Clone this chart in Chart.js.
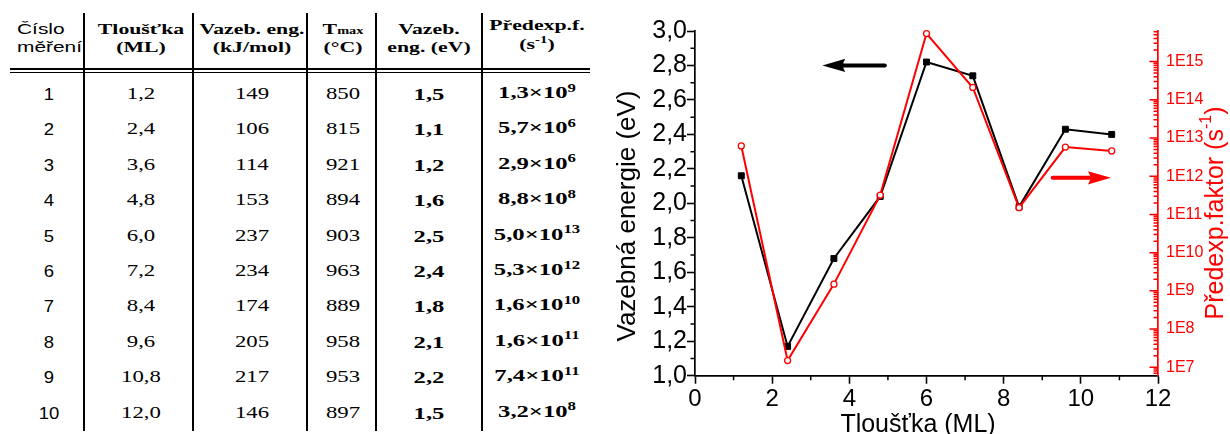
<!DOCTYPE html>
<html>
<head>
<meta charset="utf-8">
<script src="https://cdn.jsdelivr.net/npm/chart.js@4/dist/chart.umd.min.js"></script>
<style>
  html, body { margin: 0; padding: 0; background: #fff; }
  #page { position: relative; width: 1230px; height: 434px; overflow: hidden; background: #fff; }
  #table { position: absolute; left: 0; top: 0; width: 600px; height: 434px; }
  #chartBox { position: absolute; left: 600px; top: 0; width: 630px; height: 434px; }
  .t { position: absolute; white-space: nowrap; line-height: 1; color: #000; }
  .sans { font-family: "Liberation Sans", Arial, sans-serif; }
  .serif { font-family: "Liberation Serif", "Times New Roman", serif; }
  .b { font-weight: bold; }
  .sup { position: relative; top: -0.55em; font-size: 0.68em; line-height: 0; }
  .small { font-size: 0.66em; }
  .rule { position: absolute; background: #000; }
</style>
</head>
<body>
<div id="page">
  <div id="table"></div>
  <div id="chartBox"><canvas id="chart" width="630" height="434"></canvas></div>
</div>
<script>
// ---- table of measurements ----
const measurementNo = [1, 2, 3, 4, 5, 6, 7, 8, 9, 10];
const layerThickness = [1.2, 2.4, 3.6, 4.8, 6.0, 7.2, 8.4, 9.6, 10.8, 12.0];
const energyKJmol = [149, 106, 114, 153, 237, 234, 174, 205, 217, 146];
const tMaxC = [850, 815, 921, 894, 903, 963, 889, 958, 953, 897];
const energyEV = [1.5, 1.1, 1.2, 1.6, 2.5, 2.4, 1.8, 2.1, 2.2, 1.5];
const prefactorMantissa = [1.3, 5.7, 2.9, 8.8, 5.0, 5.3, 1.6, 1.6, 7.4, 3.2];
const prefactorExponent = [9, 6, 6, 8, 13, 12, 10, 11, 11, 8];

// ---- plotted series ----
const thicknessML = [1.2, 2.4, 3.6, 4.8, 6.0, 7.2, 8.4, 9.6, 10.8];
const bindingEnergyEV = [2.16, 1.17, 1.68, 2.04, 2.82, 2.74, 1.98, 2.43, 2.40];
const prefactorPerS = [6.2e12, 1.5e7, 1.5e9, 3.2e11, 5.4e15, 2.1e14, 1.5e11, 5.8e12, 4.6e12];

// ---- axis ticks ----
const xTicks = [0, 2, 4, 6, 8, 10, 12];
const yTicks = [1.0, 1.2, 1.4, 1.6, 1.8, 2.0, 2.2, 2.4, 2.6, 2.8, 3.0];
const logExponents = [7, 8, 9, 10, 11, 12, 13, 14, 15];

const RED = '#ff0000';
const comma = v => v.toFixed(1).replace('.', ',');

// ---------- table ----------
const tbl = document.getElementById('table');
function put(html, cx, cy, cls, sx, leftAlign) {
  const d = document.createElement('div');
  d.className = 't ' + cls;
  d.innerHTML = html;
  d.style.left = cx + 'px';
  d.style.top = cy + 'px';
  if (leftAlign) {
    d.style.transformOrigin = 'left center';
    d.style.transform = `translateY(-50%) scaleX(${sx})`;
  } else {
    d.style.transformOrigin = 'center center';
    d.style.transform = `translate(-50%,-50%) scaleX(${sx})`;
  }
  tbl.appendChild(d);
}
function rule(x, y, w, h) {
  const d = document.createElement('div');
  d.className = 'rule';
  Object.assign(d.style, { left: x + 'px', top: y + 'px', width: w + 'px', height: h + 'px' });
  tbl.appendChild(d);
}

const colX = [49, 141, 252, 343, 429, 537];
const head1 = 29, head2 = 47;
const hs = 'font-size:15px';

put('<span style="font-size:14.5px">Číslo</span>', 17, head1, 'sans', 1.44, true);
put('<span style="font-size:14.5px">měření</span>', 17, head2, 'sans', 1.44, true);
put(`<span style="${hs}">Tloušťka</span>`, colX[1], head1, 'serif b', 1.45);
put(`<span style="${hs}">(ML)</span>`, colX[1], head2, 'serif b', 1.45);
put(`<span style="${hs}">Vazeb. eng.</span>`, colX[2], head1, 'serif b', 1.45);
put(`<span style="${hs}">(kJ/mol)</span>`, colX[2], head2, 'serif b', 1.45);
put(`<span style="${hs}">T<span class="small">max</span></span>`, colX[3], head1, 'serif b', 1.45);
put(`<span style="${hs}">(°C)</span>`, colX[3], head2, 'serif b', 1.45);
put(`<span style="${hs}">Vazeb.</span>`, colX[4], head1, 'serif b', 1.45);
put(`<span style="${hs}">eng. (eV)</span>`, colX[4], head2, 'serif b', 1.45);
put(`<span style="${hs}">Předexp.f.</span>`, colX[5], 25, 'serif b', 1.45);
put(`<span style="${hs}">(s<span class="sup">-1</span>)</span>`, colX[5], 44, 'serif b', 1.45);

const row0 = 94, rowH = 35.4;
measurementNo.forEach((n, i) => {
  const cy = row0 + i * rowH;
  put(`<span style="font-size:16.5px">${n}</span>`, colX[0], cy, 'sans', 1.12);
  put(`<span style="font-size:16.5px">${comma(layerThickness[i])}</span>`, colX[1], cy, 'serif', 1.38);
  put(`<span style="font-size:16.5px">${energyKJmol[i]}</span>`, colX[2], cy, 'serif', 1.38);
  put(`<span style="font-size:16.5px">${tMaxC[i]}</span>`, colX[3], cy, 'serif', 1.38);
  put(`<span style="font-size:17px">${comma(energyEV[i])}</span>`, colX[4], cy, 'serif b', 1.45);
  put(`<span style="font-size:17px">${comma(prefactorMantissa[i])}×10<span class="sup">${prefactorExponent[i]}</span></span>`,
      colX[5], cy - 2, 'serif b', 1.45);
});

// header double rule and column separators
rule(10, 68, 580, 2);
rule(10, 71.5, 580, 1.5);
[83, 192, 306, 375, 481].forEach(x => rule(x, 13, 2.2, 418));

// ---------- chart ----------
const LEFT_W = 95, RIGHT_W = 72, BOTTOM_H = 58.3, TOP_PAD = 31;

const axisExtras = {
  id: 'axisExtras',
  afterDraw(chart) {
    const { ctx, chartArea: ca, scales: { x, y, y2 } } = chart;
    ctx.save();
    // minor ticks on the bottom and left axes
    ctx.strokeStyle = '#000';
    ctx.lineWidth = 1.5;
    ctx.beginPath();
    for (let i = 0; i + 1 < xTicks.length; i++) {
      const px = x.getPixelForValue((xTicks[i] + xTicks[i + 1]) / 2);
      ctx.moveTo(px, ca.bottom); ctx.lineTo(px, ca.bottom + 4.5);
    }
    for (let i = 0; i + 1 < yTicks.length; i++) {
      const py = y.getPixelForValue((yTicks[i] + yTicks[i + 1]) / 2);
      ctx.moveTo(ca.left, py); ctx.lineTo(ca.left - 4.5, py);
    }
    ctx.stroke();

    // log axis ticks, pointing inwards
    ctx.strokeStyle = RED;
    ctx.beginPath();
    const lo = Math.log10(y2.min), hi = Math.log10(y2.max);
    for (let e = Math.floor(lo); e <= Math.ceil(hi); e++) {
      for (let k = 1; k <= 9; k++) {
        const v = k * Math.pow(10, e);
        const lv = Math.log10(v);
        if (lv < lo - 1e-9 || lv > hi + 1e-9) continue;
        const py = y2.getPixelForValue(v);
        const len = k === 1 ? 8.5 : 4.5;
        ctx.moveTo(ca.right, py); ctx.lineTo(ca.right - len, py);
      }
    }
    ctx.stroke();

    // axis titles
    ctx.fillStyle = '#000';
    ctx.font = '26px "Liberation Sans", Arial, sans-serif';
    ctx.textAlign = 'center';
    ctx.textBaseline = 'middle';
    ctx.save();
    ctx.translate(ca.left - 67, 216);
    ctx.rotate(-Math.PI / 2);
    ctx.fillText('Vazebná energie (eV)', 0, 0);
    ctx.restore();

    ctx.font = '25px "Liberation Sans", Arial, sans-serif';
    ctx.textBaseline = 'alphabetic';
    ctx.fillText('Tloušťka (ML)', 318, 432);

    // right title with superscript
    ctx.save();
    ctx.fillStyle = RED;
    ctx.translate(616, 213);
    ctx.rotate(-Math.PI / 2);
    ctx.textAlign = 'left';
    ctx.textBaseline = 'middle';
    const big = '25px "Liberation Sans", Arial, sans-serif';
    const sm = '16px "Liberation Sans", Arial, sans-serif';
    const p1 = 'Předexp.faktor (s', p2 = '-1', p3 = ')';
    ctx.font = big; const w1 = ctx.measureText(p1).width, w3 = ctx.measureText(p3).width;
    ctx.font = sm; const w2 = ctx.measureText(p2).width;
    let sx = -(w1 + w2 + w3) / 2;
    ctx.font = big; ctx.fillText(p1, sx, 0); sx += w1;
    ctx.font = sm; ctx.fillText(p2, sx, -9); sx += w2;
    ctx.font = big; ctx.fillText(p3, sx, 0);
    ctx.restore();

    ctx.restore();
  },
  afterDatasetsDraw(chart) {
    const { ctx, scales: { x, y, y2 } } = chart;
    const drawArrow = (xTail, xTip, py, color) => {
      const dir = Math.sign(xTip - xTail);
      const headLen = 23, halfH = 6.6;
      ctx.save();
      ctx.strokeStyle = color; ctx.fillStyle = color;
      ctx.lineWidth = 4; ctx.lineCap = 'round';
      ctx.beginPath();
      ctx.moveTo(xTail, py); ctx.lineTo(xTip - dir * headLen * 0.7, py);
      ctx.stroke();
      ctx.beginPath();
      ctx.moveTo(xTip, py);
      ctx.lineTo(xTip - dir * headLen, py - halfH);
      ctx.quadraticCurveTo(xTip - dir * headLen * 0.8, py, xTip - dir * headLen, py + halfH);
      ctx.closePath();
      ctx.fill();
      ctx.restore();
    };
    // pointers telling which axis belongs to which curve
    drawArrow(x.getPixelForValue(4.92), x.getPixelForValue(3.30), y.getPixelForValue(2.8), '#000');
    drawArrow(x.getPixelForValue(9.27), x.getPixelForValue(10.78), y2.getPixelForValue(9.1e11), RED);
  }
};

new Chart(document.getElementById('chart'), {
  type: 'line',
  data: {
    datasets: [
      {
        label: 'Předexp. faktor',
        data: thicknessML.map((t, i) => ({ x: t, y: prefactorPerS[i] })),
        yAxisID: 'y2',
        borderColor: RED,
        borderWidth: 2,
        pointStyle: 'circle',
        pointRadius: 3,
        pointBorderWidth: 1.3,
        pointBackgroundColor: '#fff',
        pointBorderColor: RED,
        tension: 0,
        clip: false,
        order: 0
      },
      {
        label: 'Vazebná energie',
        data: thicknessML.map((t, i) => ({ x: t, y: bindingEnergyEV[i] })),
        yAxisID: 'y',
        borderColor: '#000',
        borderWidth: 2,
        pointStyle: 'rect',
        pointRadius: 4.2,
        pointBorderWidth: 1,
        pointBackgroundColor: '#000',
        pointBorderColor: '#000',
        tension: 0,
        clip: false,
        order: 1
      }
    ]
  },
  options: {
    responsive: false,
    devicePixelRatio: 1,
    animation: false,
    layout: { padding: { top: TOP_PAD, left: 0, right: 0, bottom: 0 } },
    plugins: { legend: { display: false }, tooltip: { enabled: false }, title: { display: false } },
    scales: {
      x: {
        type: 'linear',
        min: 0, max: 12,
        afterBuildTicks: s => { s.ticks = xTicks.map(v => ({ value: v })); },
        afterFit: s => { s.height = BOTTOM_H; },
        ticks: {
          color: '#000', padding: 1, maxRotation: 0, autoSkip: false,
          font: { family: '"Liberation Sans", Arial, sans-serif', size: 24 },
          callback: v => String(v)
        },
        grid: { drawOnChartArea: false, drawTicks: true, tickLength: 8, tickWidth: 1.6, tickColor: '#000' },
        border: { display: true, color: '#000', width: 1.7 }
      },
      y: {
        type: 'linear',
        position: 'left',
        min: 1.0, max: 3.0,
        afterBuildTicks: s => { s.ticks = yTicks.map(v => ({ value: v })); },
        afterFit: s => { s.width = LEFT_W; },
        ticks: {
          color: '#000', padding: 0, autoSkip: false,
          font: { family: '"Liberation Sans", Arial, sans-serif', size: 25 },
          callback: v => comma(v)
        },
        grid: { drawOnChartArea: false, drawTicks: true, tickLength: 8, tickWidth: 1.6, tickColor: '#000' },
        border: { display: true, color: '#000', width: 1.7 }
      },
      y2: {
        type: 'logarithmic',
        position: 'right',
        min: Math.pow(10, 6.78), max: Math.pow(10, 15.8),
        afterBuildTicks: s => { s.ticks = logExponents.map(e => ({ value: Math.pow(10, e) })); },
        afterFit: s => { s.width = RIGHT_W; },
        ticks: {
          color: RED, padding: 8, autoSkip: false,
          font: { family: '"Liberation Sans", Arial, sans-serif', size: 16 },
          callback: v => '1E' + Math.round(Math.log10(v))
        },
        grid: { drawOnChartArea: false, drawTicks: false },
        border: { display: true, color: RED, width: 1.7 }
      }
    }
  },
  plugins: [axisExtras]
});
</script>
</body>
</html>
